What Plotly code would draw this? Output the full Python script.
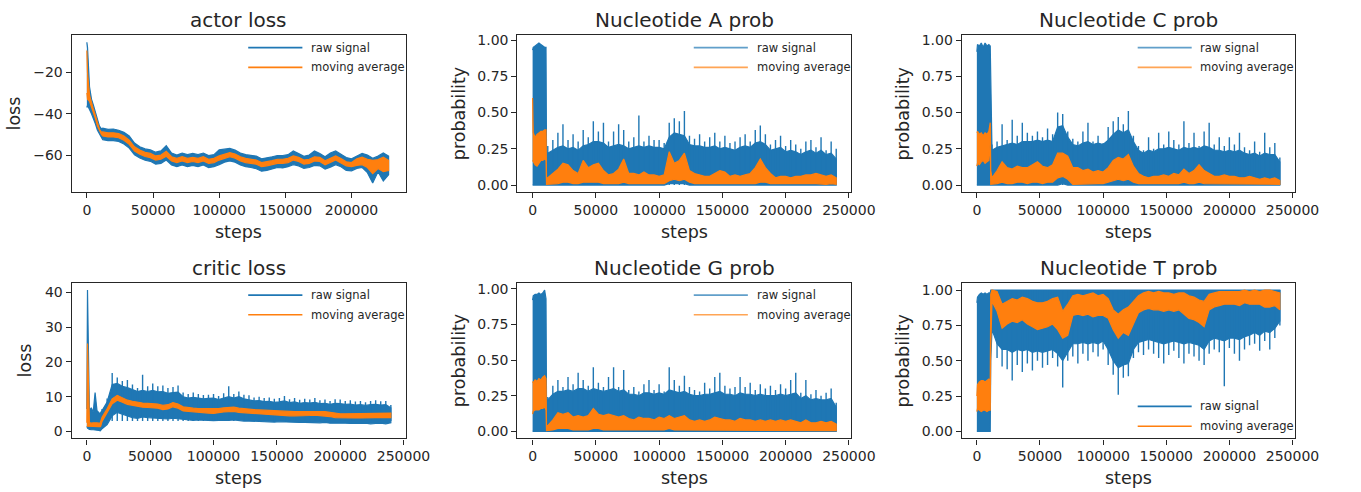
import plotly.graph_objects as go

# sampling grid (steps) shared by all panels
early_steps = [0, 500, 2000, 3500, 5000, 6500, 8000, 9500, 10600, 11000]
steps = early_steps + list(range(12000, 240001, 4000))
spike_steps = list(range(12000, 240001, 4000))

# ---- actor loss (ends at ~228000) ----
actor_raw_hi = [-5.5, -8.0, -27.0, -33.0, -36.0, -39.0, -43.0, -46.0, -47.0, -47.5,
                -47.0, -47.6, -47.4, -48.0, -49.0, -50.8, -54.2, -56.0, -57.0, -57.5,
                -58.6, -58.0, -55.5, -59.0, -60.0, -59.0, -59.8, -59.2, -59.8, -59.0,
                -60.2, -59.8, -57.5, -57.2, -56.8, -57.6, -59.0, -59.8, -60.2, -60.5,
                -61.8, -61.4, -60.8, -60.2, -60.2, -59.8, -58.0, -59.2, -60.6, -60.0,
                -58.0, -59.2, -60.8, -59.0, -58.0, -59.6, -61.2, -61.8, -60.4, -59.2,
                -60.0, -61.5, -60.5, -59.0, -60.5]
actor_raw_lo = [-37.0, -36.0, -38.0, -40.0, -42.0, -45.0, -48.0, -50.0, -51.0, -51.5,
                -52.6, -53.0, -53.0, -53.4, -54.6, -56.6, -59.8, -61.4, -62.5, -63.0,
                -64.4, -64.0, -62.4, -64.8, -65.6, -64.8, -65.6, -65.0, -65.6, -64.8,
                -66.0, -65.6, -64.6, -63.4, -62.8, -63.4, -64.8, -65.6, -66.0, -66.6,
                -67.8, -67.4, -66.8, -66.0, -66.2, -65.6, -64.6, -65.2, -66.4, -66.0,
                -65.0, -65.2, -66.8, -65.8, -64.6, -65.6, -67.4, -67.6, -66.4, -66.0,
                -68.5, -73.5, -68.0, -72.5, -69.5]
actor_ma_hi = [-9.5, -20.0, -31.0, -35.0, -38.0, -41.0, -44.5, -47.5, -48.5, -49.0,
               -48.8, -49.2, -49.2, -49.6, -50.8, -52.8, -56.0, -57.6, -58.7, -59.2,
               -60.4, -60.0, -58.2, -60.8, -61.6, -60.8, -61.6, -61.1, -61.6, -60.8,
               -62.0, -61.6, -60.4, -59.5, -58.8, -59.5, -60.8, -61.6, -62.0, -62.4,
               -63.6, -63.2, -62.7, -62.0, -62.0, -61.6, -60.4, -61.1, -62.4, -62.0,
               -60.8, -61.1, -62.7, -61.6, -60.4, -61.6, -63.2, -63.6, -61.8, -61.0,
               -62.0, -62.5, -62.2, -61.0, -62.5]
actor_ma_lo = [-30.0, -33.0, -34.0, -37.0, -39.5, -42.5, -46.0, -48.5, -49.5, -50.0,
               -50.8, -51.2, -51.2, -51.6, -52.8, -54.8, -58.0, -59.6, -60.7, -61.2,
               -62.4, -62.0, -60.6, -62.8, -63.6, -62.8, -63.6, -63.1, -63.6, -62.8,
               -64.0, -63.6, -62.4, -61.5, -60.8, -61.5, -62.8, -63.6, -64.0, -64.4,
               -65.6, -65.2, -64.7, -64.0, -64.0, -63.6, -62.4, -63.1, -64.4, -64.0,
               -62.8, -63.1, -64.7, -63.6, -62.4, -63.6, -65.2, -65.6, -65.0, -64.6,
               -66.0, -69.0, -66.5, -68.0, -67.5]

# ---- nucleotide A ----
a_raw_hi = [0.93, 0.95, 0.96, 0.97, 0.98, 0.97, 0.96, 0.95, 0.95, 0.22,
            0.22, 0.24, 0.26, 0.27, 0.25, 0.26, 0.24, 0.27, 0.28, 0.30,
            0.30, 0.29, 0.26, 0.27, 0.28, 0.27, 0.25, 0.26, 0.27, 0.26,
            0.27, 0.26, 0.26, 0.25, 0.33, 0.36, 0.35, 0.34, 0.28, 0.27,
            0.27, 0.26, 0.26, 0.27, 0.25, 0.26, 0.25, 0.24, 0.26, 0.27,
            0.26, 0.29, 0.30, 0.28, 0.24, 0.25, 0.26, 0.23, 0.24, 0.23,
            0.21, 0.23, 0.24, 0.22, 0.24, 0.21, 0.22, 0.18]
a_raw_lo = [0.0, 0.0, 0.0, 0.0, 0.0, 0.0, 0.0, 0.0, 0.0, 0.0,
            0.0, 0.0, 0.0, 0.0, 0.0, 0.0, 0.0, 0.0, 0.0, 0.0,
            0.0, 0.0, 0.0, 0.0, 0.0, 0.0, 0.0, 0.0, 0.0, 0.0,
            0.0, 0.0, 0.0, 0.0, 0.01, 0.01, 0.01, 0.01, 0.0, 0.0,
            0.0, 0.0, 0.0, 0.0, 0.0, 0.0, 0.0, 0.0, 0.0, 0.0,
            0.0, 0.0, 0.0, 0.0, 0.0, 0.0, 0.0, 0.0, 0.0, 0.0,
            0.0, 0.0, 0.0, 0.0, 0.0, 0.0, 0.0, 0.0]
a_raw_spikes = [0.27, 0.31, 0.36, 0.42, 0.31, 0.35, 0.30, 0.38, 0.33, 0.44,
                0.37, 0.43, 0.30, 0.37, 0.42, 0.38, 0.30, 0.33, 0.48, 0.30,
                0.34, 0.31, 0.31, 0.29, 0.43, 0.46, 0.44, 0.51, 0.34, 0.32,
                0.35, 0.30, 0.33, 0.36, 0.30, 0.34, 0.29, 0.30, 0.33, 0.35,
                0.30, 0.38, 0.41, 0.35, 0.28, 0.31, 0.34, 0.27, 0.31, 0.28,
                0.25, 0.30, 0.31, 0.26, 0.33, 0.24, 0.30, 0.25]
a_ma_hi = [0.60, 0.36, 0.33, 0.35, 0.36, 0.37, 0.37, 0.38, 0.38, 0.05,
           0.05, 0.08, 0.11, 0.15, 0.14, 0.10, 0.08, 0.17, 0.12, 0.14,
           0.15, 0.10, 0.07, 0.08, 0.11, 0.18, 0.08, 0.08, 0.07, 0.09,
           0.07, 0.07, 0.06, 0.07, 0.23, 0.15, 0.17, 0.22, 0.10, 0.08,
           0.07, 0.06, 0.06, 0.08, 0.10, 0.09, 0.06, 0.07, 0.06, 0.07,
           0.08, 0.12, 0.18, 0.12, 0.08, 0.05, 0.06, 0.06, 0.05, 0.06,
           0.06, 0.07, 0.07, 0.08, 0.07, 0.06, 0.07, 0.05]
a_ma_lo = [0.17, 0.16, 0.14, 0.13, 0.15, 0.17, 0.17, 0.18, 0.17, 0.005,
           0.005, 0.01, 0.01, 0.02, 0.02, 0.01, 0.01, 0.02, 0.02, 0.02,
           0.02, 0.01, 0.01, 0.01, 0.01, 0.02, 0.01, 0.01, 0.01, 0.01,
           0.01, 0.01, 0.01, 0.01, 0.03, 0.04, 0.03, 0.04, 0.02, 0.01,
           0.01, 0.01, 0.01, 0.01, 0.01, 0.01, 0.01, 0.01, 0.01, 0.01,
           0.01, 0.01, 0.02, 0.02, 0.01, 0.005, 0.005, 0.01, 0.005, 0.01,
           0.005, 0.01, 0.01, 0.01, 0.01, 0.005, 0.01, 0.005]

# ---- nucleotide C ----
c_raw_hi = [0.92, 0.97, 0.96, 0.98, 0.95, 0.98, 0.96, 0.97, 0.96, 0.76,
            0.24, 0.26, 0.27, 0.28, 0.29, 0.28, 0.30, 0.30, 0.30, 0.31,
            0.30, 0.31, 0.30, 0.40, 0.41, 0.33, 0.28, 0.27, 0.29, 0.30,
            0.28, 0.29, 0.28, 0.31, 0.35, 0.38, 0.36, 0.38, 0.30, 0.24,
            0.22, 0.24, 0.23, 0.25, 0.25, 0.26, 0.25, 0.24, 0.26, 0.25,
            0.26, 0.25, 0.27, 0.26, 0.24, 0.24, 0.23, 0.24, 0.23, 0.24,
            0.22, 0.21, 0.22, 0.20, 0.22, 0.21, 0.21, 0.16]
c_raw_lo = [0.0, 0.0, 0.0, 0.0, 0.0, 0.0, 0.0, 0.0, 0.0, 0.0,
            0.0, 0.0, 0.0, 0.0, 0.0, 0.0, 0.0, 0.0, 0.0, 0.0,
            0.0, 0.0, 0.0, 0.0, 0.01, 0.0, 0.0, 0.0, 0.0, 0.0,
            0.0, 0.0, 0.0, 0.0, 0.0, 0.0, 0.0, 0.0, 0.0, 0.0,
            0.0, 0.0, 0.0, 0.0, 0.0, 0.0, 0.0, 0.0, 0.0, 0.0,
            0.0, 0.0, 0.0, 0.0, 0.0, 0.0, 0.0, 0.0, 0.0, 0.0,
            0.0, 0.0, 0.0, 0.0, 0.0, 0.0, 0.0, 0.0]
c_raw_spikes = [0.28, 0.30, 0.42, 0.31, 0.45, 0.34, 0.43, 0.36, 0.34, 0.37,
                0.33, 0.39, 0.35, 0.50, 0.49, 0.37, 0.32, 0.30, 0.37, 0.43,
                0.30, 0.34, 0.29, 0.40, 0.44, 0.47, 0.42, 0.51, 0.34, 0.27,
                0.24, 0.33, 0.25, 0.36, 0.28, 0.37, 0.31, 0.28, 0.44, 0.29,
                0.36, 0.27, 0.37, 0.43, 0.28, 0.33, 0.27, 0.33, 0.28, 0.36,
                0.26, 0.24, 0.30, 0.23, 0.36, 0.26, 0.29, 0.19]
c_ma_hi = [0.36, 0.37, 0.35, 0.36, 0.34, 0.36, 0.35, 0.37, 0.43, 0.10,
           0.05, 0.10, 0.16, 0.12, 0.11, 0.13, 0.12, 0.12, 0.14, 0.16,
           0.13, 0.12, 0.14, 0.22, 0.22, 0.20, 0.12, 0.12, 0.10, 0.11,
           0.09, 0.10, 0.09, 0.12, 0.17, 0.19, 0.18, 0.21, 0.13, 0.08,
           0.06, 0.05, 0.06, 0.06, 0.07, 0.06, 0.08, 0.07, 0.11, 0.08,
           0.10, 0.14, 0.10, 0.08, 0.06, 0.06, 0.07, 0.06, 0.06, 0.05,
           0.05, 0.06, 0.05, 0.04, 0.05, 0.04, 0.05, 0.03]
c_ma_lo = [0.13, 0.15, 0.14, 0.16, 0.17, 0.15, 0.16, 0.17, 0.30, 0.005,
           0.005, 0.01, 0.02, 0.01, 0.01, 0.02, 0.02, 0.01, 0.02, 0.02,
           0.01, 0.02, 0.02, 0.05, 0.06, 0.04, 0.005, 0.01, 0.01, 0.01,
           0.01, 0.01, 0.01, 0.02, 0.03, 0.04, 0.03, 0.04, 0.02, 0.01,
           0.01, 0.01, 0.01, 0.01, 0.01, 0.01, 0.01, 0.01, 0.02, 0.01,
           0.01, 0.02, 0.01, 0.01, 0.005, 0.01, 0.005, 0.01, 0.005, 0.005,
           0.005, 0.005, 0.005, 0.005, 0.005, 0.005, 0.005, 0.005]

# ---- critic loss ----
critic_raw_hi = [6.5, 40.7, 6.0, 6.8, 5.5, 11.2, 6.0, 5.5, 5.0, 5.5,
                 6.0, 8.5, 13.5, 13.8, 13.0, 12.6, 12.0, 11.5, 11.8, 11.5,
                 11.8, 11.4, 11.5, 11.0, 11.2, 11.3, 10.0, 9.6, 9.8, 9.6,
                 9.4, 9.5, 9.6, 9.2, 9.6, 10.0, 9.6, 10.0, 9.4, 9.2,
                 8.8, 8.9, 8.6, 8.7, 8.4, 8.5, 8.8, 8.3, 8.5, 8.1,
                 8.3, 8.2, 8.4, 8.0, 8.1, 7.8, 8.1, 8.0, 7.8, 7.9,
                 7.6, 7.7, 7.5, 7.7, 7.8, 7.6, 7.7, 6.8]
critic_raw_lo = [1.5, 1.0, 0.6, 0.5, 0.5, 0.6, 0.4, 0.3, 0.2, 0.3,
                 0.8, 2.0, 4.5, 5.5, 5.0, 4.5, 4.0, 3.8, 4.2, 4.0,
                 3.8, 3.6, 3.7, 3.6, 3.8, 3.6, 3.4, 3.3, 3.2, 3.3,
                 3.2, 3.2, 3.1, 3.2, 3.3, 3.2, 3.3, 3.2, 3.0, 3.0,
                 2.9, 2.9, 2.8, 2.8, 2.7, 2.8, 2.7, 2.6, 2.7, 2.6,
                 2.6, 2.7, 2.6, 2.5, 2.6, 2.4, 2.4, 2.3, 2.4, 2.3,
                 2.4, 2.3, 2.4, 2.2, 2.3, 2.4, 2.2, 2.5]
critic_raw_spikes = [6.5, 9.5, 16.8, 15.5, 14.5, 14.8, 13.5, 12.5, 16.3, 13.0,
                     13.8, 13.0, 13.2, 12.5, 12.8, 13.2, 11.2, 10.8, 11.2, 10.8,
                     10.5, 10.6, 10.8, 10.2, 11.0, 13.0, 10.8, 11.5, 10.6, 10.4,
                     9.8, 10.0, 9.6, 9.8, 9.4, 9.6, 10.2, 9.3, 9.6, 9.1,
                     9.4, 9.2, 9.6, 9.0, 9.2, 8.8, 9.3, 9.2, 8.8, 9.0,
                     8.6, 8.8, 8.4, 8.8, 9.0, 8.7, 8.8, 7.6]
critic_ma_hi = [2.5, 25.3, 2.6, 2.4, 2.5, 2.6, 2.5, 2.4, 2.5, 3.0,
                4.1, 6.5, 9.4, 10.4, 9.6, 9.0, 8.7, 8.4, 8.2, 8.1,
                8.1, 7.9, 7.5, 7.7, 8.3, 7.9, 7.1, 6.8, 6.7, 6.6,
                6.6, 6.5, 6.4, 6.6, 6.8, 7.0, 7.0, 6.7, 6.5, 6.4,
                6.3, 6.2, 6.1, 6.0, 5.9, 5.8, 5.8, 5.7, 5.7, 5.7,
                5.7, 5.8, 5.9, 5.8, 5.7, 5.5, 5.2, 5.1, 5.1, 5.1,
                5.1, 5.1, 5.1, 5.1, 5.2, 5.2, 5.1, 5.3]
critic_ma_lo = [1.5, 1.6, 1.4, 1.4, 1.5, 1.5, 1.4, 1.4, 1.4, 1.6,
                2.9, 5.3, 8.0, 9.0, 8.4, 7.8, 7.5, 7.2, 7.0, 6.9,
                6.9, 6.7, 6.3, 6.5, 7.1, 6.7, 5.9, 5.6, 5.5, 5.4,
                5.4, 5.3, 5.2, 5.4, 5.6, 5.8, 5.8, 5.5, 5.3, 5.2,
                5.1, 5.0, 4.9, 4.8, 4.7, 4.6, 4.6, 4.5, 4.5, 4.5,
                4.5, 4.6, 4.7, 4.6, 4.5, 4.3, 4.0, 3.9, 3.9, 3.9,
                3.9, 3.9, 3.9, 3.9, 4.0, 4.0, 3.9, 4.0]

# ---- nucleotide G ----
g_raw_hi = [0.92, 0.95, 0.96, 0.96, 0.97, 0.96, 0.97, 0.99, 0.93, 0.22,
            0.22, 0.26, 0.28, 0.28, 0.29, 0.28, 0.30, 0.30, 0.28, 0.30,
            0.29, 0.28, 0.29, 0.30, 0.28, 0.29, 0.26, 0.26, 0.25, 0.27,
            0.27, 0.26, 0.27, 0.26, 0.29, 0.28, 0.27, 0.28, 0.26, 0.25,
            0.25, 0.26, 0.26, 0.27, 0.28, 0.26, 0.26, 0.25, 0.27, 0.26,
            0.26, 0.25, 0.26, 0.25, 0.25, 0.25, 0.26, 0.25, 0.26, 0.27,
            0.23, 0.25, 0.22, 0.23, 0.22, 0.22, 0.23, 0.17]
g_raw_lo = [0.0, 0.0, 0.0, 0.0, 0.0, 0.0, 0.0, 0.0, 0.0, 0.0,
            0.0, 0.0, 0.0, 0.0, 0.0, 0.0, 0.0, 0.0, 0.0, 0.0,
            0.0, 0.0, 0.0, 0.0, 0.0, 0.0, 0.0, 0.0, 0.0, 0.0,
            0.0, 0.0, 0.0, 0.0, 0.0, 0.0, 0.0, 0.0, 0.0, 0.0,
            0.0, 0.0, 0.0, 0.0, 0.0, 0.0, 0.0, 0.0, 0.0, 0.0,
            0.0, 0.0, 0.0, 0.0, 0.0, 0.0, 0.0, 0.0, 0.0, 0.0,
            0.0, 0.0, 0.0, 0.0, 0.0, 0.0, 0.0, 0.0]
g_raw_spikes = [0.24, 0.32, 0.36, 0.31, 0.38, 0.33, 0.41, 0.36, 0.32, 0.45,
                0.34, 0.31, 0.38, 0.45, 0.31, 0.43, 0.29, 0.31, 0.28, 0.33,
                0.36, 0.29, 0.33, 0.28, 0.45, 0.36, 0.32, 0.39, 0.31, 0.29,
                0.28, 0.34, 0.30, 0.38, 0.41, 0.32, 0.30, 0.31, 0.38, 0.31,
                0.34, 0.29, 0.33, 0.30, 0.32, 0.29, 0.33, 0.30, 0.36, 0.41,
                0.27, 0.36, 0.26, 0.29, 0.25, 0.27, 0.30, 0.20]
g_ma_hi = [0.35, 0.34, 0.36, 0.35, 0.37, 0.36, 0.38, 0.39, 0.37, 0.04,
           0.04, 0.08, 0.13, 0.12, 0.13, 0.10, 0.11, 0.10, 0.11, 0.16,
           0.12, 0.11, 0.12, 0.11, 0.10, 0.11, 0.09, 0.08, 0.10, 0.09,
           0.09, 0.08, 0.10, 0.09, 0.11, 0.09, 0.10, 0.11, 0.08, 0.07,
           0.08, 0.07, 0.08, 0.10, 0.09, 0.08, 0.08, 0.07, 0.09, 0.08,
           0.08, 0.07, 0.08, 0.07, 0.08, 0.07, 0.08, 0.07, 0.08, 0.07,
           0.06, 0.08, 0.06, 0.06, 0.07, 0.06, 0.07, 0.05]
g_ma_lo = [0.12, 0.14, 0.15, 0.15, 0.15, 0.16, 0.16, 0.17, 0.15, 0.005,
           0.005, 0.01, 0.02, 0.02, 0.02, 0.01, 0.01, 0.01, 0.01, 0.02,
           0.02, 0.01, 0.01, 0.01, 0.01, 0.01, 0.01, 0.01, 0.01, 0.01,
           0.01, 0.01, 0.01, 0.01, 0.02, 0.01, 0.01, 0.01, 0.01, 0.01,
           0.01, 0.01, 0.01, 0.01, 0.01, 0.01, 0.01, 0.01, 0.01, 0.01,
           0.01, 0.005, 0.01, 0.005, 0.01, 0.005, 0.01, 0.005, 0.01, 0.005,
           0.005, 0.01, 0.005, 0.005, 0.01, 0.005, 0.005, 0.005]

# ---- nucleotide T ----
t_raw_hi = [0.91, 0.95, 0.97, 0.98, 0.97, 0.98, 0.97, 0.98, 0.98, 1.0,
            1.0, 1.0, 1.0, 1.0, 1.0, 1.0, 1.0, 1.0, 1.0, 1.0,
            1.0, 1.0, 1.0, 1.0, 1.0, 1.0, 1.0, 1.0, 1.0, 1.0,
            1.0, 1.0, 1.0, 1.0, 1.0, 1.0, 1.0, 1.0, 1.0, 1.0,
            1.0, 1.0, 1.0, 1.0, 1.0, 1.0, 1.0, 1.0, 1.0, 1.0,
            1.0, 1.0, 1.0, 1.0, 1.0, 1.0, 1.0, 1.0, 1.0, 1.0,
            1.0, 1.0, 1.0, 1.0, 1.0, 1.0, 1.0, 1.0]
t_raw_lo = [0.0, 0.0, 0.0, 0.0, 0.0, 0.0, 0.0, 0.0, 0.0, 0.5,
            0.72, 0.62, 0.58, 0.58, 0.56, 0.58, 0.57, 0.58, 0.56, 0.57,
            0.56, 0.57, 0.58, 0.55, 0.50, 0.56, 0.62, 0.62, 0.63, 0.62,
            0.63, 0.62, 0.64, 0.58, 0.50, 0.45, 0.47, 0.48, 0.58, 0.63,
            0.64, 0.65, 0.64, 0.63, 0.62, 0.63, 0.64, 0.63, 0.62, 0.63,
            0.62, 0.61, 0.58, 0.64, 0.66, 0.65, 0.64, 0.66, 0.66, 0.65,
            0.67, 0.68, 0.70, 0.68, 0.71, 0.70, 0.73, 0.78]
t_raw_spikes = [0.70, 0.52, 0.46, 0.44, 0.36, 0.47, 0.42, 0.48, 0.43, 0.50,
                0.45, 0.47, 0.52, 0.46, 0.31, 0.50, 0.53, 0.48, 0.55, 0.50,
                0.56, 0.53, 0.58, 0.47, 0.40, 0.26, 0.38, 0.39, 0.52, 0.56,
                0.54, 0.58, 0.55, 0.52, 0.48, 0.54, 0.57, 0.52, 0.48, 0.55,
                0.53, 0.50, 0.47, 0.55, 0.58, 0.56, 0.32, 0.59, 0.55, 0.50,
                0.58, 0.61, 0.62, 0.57, 0.64, 0.58, 0.66, 0.75]
t_ma_hi = [0.25, 0.33, 0.35, 0.36, 0.36, 0.35, 0.36, 0.37, 0.36, 0.97,
           1.0, 0.99, 0.90, 0.92, 0.94, 0.93, 0.95, 0.94, 0.92, 0.91,
           0.91, 0.92, 0.94, 0.95, 0.85, 0.90, 0.96, 0.97, 0.96, 0.97,
           0.98, 0.96, 0.97, 0.94, 0.86, 0.83, 0.86, 0.88, 0.92, 0.96,
           0.98, 0.99, 0.98, 0.99, 0.98, 0.98, 0.97, 0.98, 0.98, 0.96,
           0.95, 0.93, 0.92, 0.97, 0.98, 0.99, 0.99, 0.99, 0.99, 0.99,
           1.0, 0.99, 1.0, 0.99, 1.0, 1.0, 0.99, 0.98]
t_ma_lo = [0.14, 0.16, 0.15, 0.14, 0.15, 0.15, 0.14, 0.15, 0.15, 0.60,
           0.92, 0.85, 0.73, 0.76, 0.78, 0.77, 0.79, 0.76, 0.74, 0.72,
           0.73, 0.74, 0.76, 0.72, 0.66, 0.68, 0.82, 0.83, 0.82, 0.83,
           0.81, 0.82, 0.82, 0.80, 0.72, 0.66, 0.70, 0.68, 0.76, 0.84,
           0.86, 0.87, 0.86, 0.86, 0.85, 0.86, 0.85, 0.86, 0.83, 0.80,
           0.79, 0.77, 0.74, 0.86, 0.88, 0.89, 0.90, 0.90, 0.90, 0.89,
           0.91, 0.90, 0.90, 0.90, 0.88, 0.88, 0.89, 0.86]

BLUE = "#1f77b4"
ORANGE = "#ff7f0e"
INK = "#262626"
FONT = "DejaVu Sans"

W, H = 1361, 492
col_dom = [[0.0536, 0.3037], [0.387, 0.6368], [0.7193, 0.9686]]
row_dom = [[0.6124, 0.9335], [0.1077, 0.4262]]

panels = [
    dict(title="actor loss", ylabel="loss", row=0, col=0,
         raw=(actor_raw_hi, actor_raw_lo), ma=(actor_ma_hi, actor_ma_lo), spikes=None,
         xr=[-11485, 241185], yr=[-77.9, -2.2], xt=[0, 50000, 100000, 150000, 200000],
         yt=[-60, -40, -20], yfmt="d", lab_shift=-58, leg="top", leg_op=1.0),
    dict(title="Nucleotide A prob", ylabel="probability", row=0, col=1,
         raw=(a_raw_hi, a_raw_lo), ma=(a_ma_hi, a_ma_lo), spikes=(a_raw_spikes, 0.0),
         xr=[-12000, 252000], yr=[-0.049, 1.032], xt=None,
         yt=[0, 0.25, 0.5, 0.75, 1.0], yfmt=".2f", lab_shift=-59, leg="top", leg_op=0.7),
    dict(title="Nucleotide C prob", ylabel="probability", row=0, col=2,
         raw=(c_raw_hi, c_raw_lo), ma=(c_ma_hi, c_ma_lo), spikes=(c_raw_spikes, 0.0),
         xr=[-12000, 252000], yr=[-0.049, 1.032], xt=None,
         yt=[0, 0.25, 0.5, 0.75, 1.0], yfmt=".2f", lab_shift=-59, leg="top", leg_op=0.7),
    dict(title="critic loss", ylabel="loss", row=1, col=0,
         raw=(critic_raw_hi, critic_raw_lo), ma=(critic_ma_hi, critic_ma_lo),
         spikes=(critic_raw_spikes, 3.0),
         xr=[-12000, 252000], yr=[-2.0, 42.7], xt=None,
         yt=[0, 10, 20, 30, 40], yfmt="d", lab_shift=-47, leg="top", leg_op=1.0),
    dict(title="Nucleotide G prob", ylabel="probability", row=1, col=1,
         raw=(g_raw_hi, g_raw_lo), ma=(g_ma_hi, g_ma_lo), spikes=(g_raw_spikes, 0.0),
         xr=[-12000, 252000], yr=[-0.05, 1.04], xt=None,
         yt=[0, 0.25, 0.5, 0.75, 1.0], yfmt=".2f", lab_shift=-59, leg="top", leg_op=0.7),
    dict(title="Nucleotide T prob", ylabel="probability", row=1, col=2,
         raw=(t_raw_hi, t_raw_lo), ma=(t_ma_hi, t_ma_lo), spikes=(t_raw_spikes, 1.0),
         xr=[-12000, 252000], yr=[-0.05, 1.05], xt=None,
         yt=[0, 0.25, 0.5, 0.75, 1.0], yfmt=".2f", lab_shift=-59, leg="bottom", leg_op=1.0),
]

fig = go.Figure()
annotations = []
shapes = []
layout_axes = {}

for i, p in enumerate(panels, start=1):
    sfx = "" if i == 1 else str(i)
    xref, yref = "x" + sfx, "y" + sfx

    # raw signal: dense band plus narrow spikes
    hi, lo = p["raw"]
    xs = steps[:len(hi)]
    fig.add_trace(go.Scatter(
        x=xs + xs[::-1], y=list(hi) + list(lo)[::-1],
        mode="lines", fill="toself", fillcolor=BLUE,
        line=dict(color=BLUE, width=1.2),
        hoverinfo="skip", showlegend=False, xaxis=xref, yaxis=yref))
    if p["spikes"]:
        vals, base = p["spikes"]
        sx, sy = [], []
        for s, v in zip(spike_steps, vals):
            sx += [s, s, None]
            sy += [base, v, None]
        fig.add_trace(go.Scatter(
            x=sx, y=sy, mode="lines", line=dict(color=BLUE, width=1.4),
            hoverinfo="skip", showlegend=False, xaxis=xref, yaxis=yref))

    # moving average band
    hi, lo = p["ma"]
    xs = steps[:len(hi)]
    fig.add_trace(go.Scatter(
        x=xs + xs[::-1], y=list(hi) + list(lo)[::-1],
        mode="lines", fill="toself", fillcolor=ORANGE,
        line=dict(color=ORANGE, width=1.2),
        hoverinfo="skip", showlegend=False, xaxis=xref, yaxis=yref))

    xt = p["xt"] or [0, 50000, 100000, 150000, 200000, 250000]
    common = dict(showgrid=False, zeroline=False, showline=True, mirror=True,
                  linecolor=INK, linewidth=1.2, ticks="outside", ticklen=5,
                  tickwidth=1.2, tickcolor=INK,
                  tickfont=dict(family=FONT, size=14, color=INK))
    layout_axes["xaxis" + sfx] = dict(common, domain=col_dom[p["col"]], range=p["xr"],
                                      anchor=yref, tickvals=xt, tickformat="d")
    layout_axes["yaxis" + sfx] = dict(common, domain=row_dom[p["row"]], range=p["yr"],
                                      anchor=xref, tickvals=p["yt"], tickformat=p["yfmt"])

    xd, yd = xref + " domain", yref + " domain"
    # panel title
    annotations.append(dict(text=p["title"], xref=xd, yref=yd, x=0.5, y=1,
                            xanchor="center", yanchor="middle", yshift=15, showarrow=False,
                            font=dict(family=FONT, size=20, color=INK)))
    # axis labels
    annotations.append(dict(text="steps", xref=xd, yref=yd, x=0.5, y=0,
                            xanchor="center", yanchor="middle", yshift=-39.5, showarrow=False,
                            font=dict(family=FONT, size=17.5, color=INK)))
    annotations.append(dict(text=p["ylabel"], xref=xd, yref=yd, x=0, y=0.5, textangle=-90,
                            xanchor="center", yanchor="middle", xshift=p["lab_shift"],
                            showarrow=False, font=dict(family=FONT, size=17.5, color=INK)))
    # legend
    ys = (0.922, 0.796) if p["leg"] == "top" else (0.206, 0.078)
    for label, color, yy in (("raw signal", BLUE, ys[0]), ("moving average", ORANGE, ys[1])):
        shapes.append(dict(type="line", xref=xd, yref=yd, x0=0.528, x1=0.69, y0=yy, y1=yy,
                           line=dict(color=color, width=1.6), opacity=p["leg_op"]))
        annotations.append(dict(text=label, xref=xd, yref=yd, x=0.71, y=yy,
                                xanchor="left", yanchor="middle", showarrow=False,
                                font=dict(family=FONT, size=11.5, color=INK)))

fig.update_layout(
    width=W, height=H,
    margin=dict(l=0, r=0, t=0, b=0),
    paper_bgcolor="white", plot_bgcolor="white",
    showlegend=False,
    font=dict(family=FONT, color=INK),
    annotations=annotations, shapes=shapes,
    **layout_axes,
)

# drop the browser's default 8px body margin so the figure fills the window exactly
fig.write_html("out.html", config={"displayModeBar": False},
               post_script="document.body.style.margin='0';document.body.style.overflow='hidden';")
